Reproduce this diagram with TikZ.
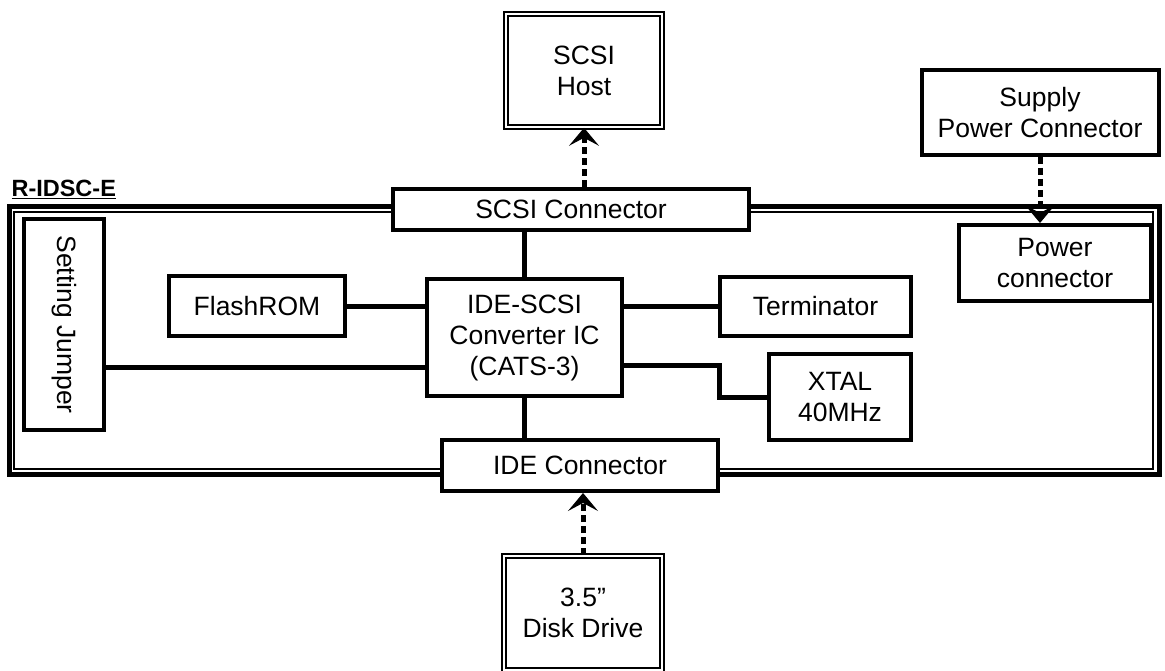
\documentclass[tikz,border=0pt]{standalone}
\usepackage{fontspec}
\setmainfont{Liberation Sans}
\usetikzlibrary{arrows.meta,calc}
\begin{document}
\begin{tikzpicture}[x=1pt,y=-1pt,
  box/.style={draw,line width=4pt,fill=white,inner sep=0pt,align=center,
    font=\fontsize{26.5}{31}\selectfont},
  dbox/.style={draw,double,double distance=2.5pt,line width=1.6pt,fill=white,inner sep=0pt,align=center,
    font=\fontsize{26.5}{31}\selectfont},
  wire/.style={line width=5pt},
  darrow/.style={line width=5pt,dash pattern=on 7pt off 4pt,
    -{Stealth[length=18pt,width=30pt,inset=8pt,line width=1pt]}}]
\useasboundingbox (0,0) rectangle (1165,671);
% board frame
\draw[line width=5pt] (9.5,207) rectangle (1159,474.5);
\draw[line width=1.5pt] (14,212) rectangle (1153,469);
\node[anchor=base west,font=\fontsize{23.5}{27}\selectfont\bfseries] (lbl) at (8,197) {\underline{R-IDSC-E}};
% nodes
\node[box,minimum width=356pt,minimum height=41pt] (scsi) at (571,209.5) {SCSI Connector};
\node[box,minimum width=276pt,minimum height=51pt] (ide) at (580,465.5) {IDE Connector};
\node[box,minimum width=79.5pt,minimum height=211pt] (jumper) at (64,324.5) {\rotatebox{-90}{Setting Jumper}};
\node[box,minimum width=176pt,minimum height=60pt] (flash) at (257,306) {FlashROM};
\node[box,minimum width=195pt,minimum height=117pt] (ic) at (524.5,337.5) {IDE-SCSI\\Converter IC\\(CATS-3)};
\node[box,minimum width=191pt,minimum height=59pt] (term) at (815.5,306.5) {Terminator};
\node[box,minimum width=142pt,minimum height=86pt] (xtal) at (840,397) {XTAL\\40MHz};
\node[box,minimum width=192pt,minimum height=76pt] (power) at (1055,263) {Power\\connector};
\node[box,minimum width=237pt,minimum height=85pt] (supply) at (1040,112.5) {Supply\\Power Connector};
\node[dbox,minimum width=156pt,minimum height=113pt] (host) at (584,70.5) {SCSI\\Host};
\node[dbox,minimum width=158pt,minimum height=114pt] (disk) at (583,613) {3.5”\\Disk Drive};
% wires
\coordinate (jy) at (0,367);
\coordinate (xb) at (719,365);
\draw[wire] (scsi.south -| ic.north) -- (ic.north);
\draw[wire] (flash.east) -- (flash.east -| ic.west);
\draw[wire] (jumper.east |- jy) -- (ic.west |- jy);
\draw[wire] (ic.east |- term.west) -- (term.west);
\draw[wire] (ic.east |- xb) -- (xb) |- (xtal.west);
\draw[wire] (ic.south) -- (ic.south |- ide.north);
% dashed arrows
\draw[darrow] (scsi.north -| host.south) -- (host.south);
\draw[darrow] (disk.north) -- (disk.north |- ide.south);
\draw[darrow] (supply.south) -- (supply.south |- power.north);
\end{tikzpicture}
\end{document}
